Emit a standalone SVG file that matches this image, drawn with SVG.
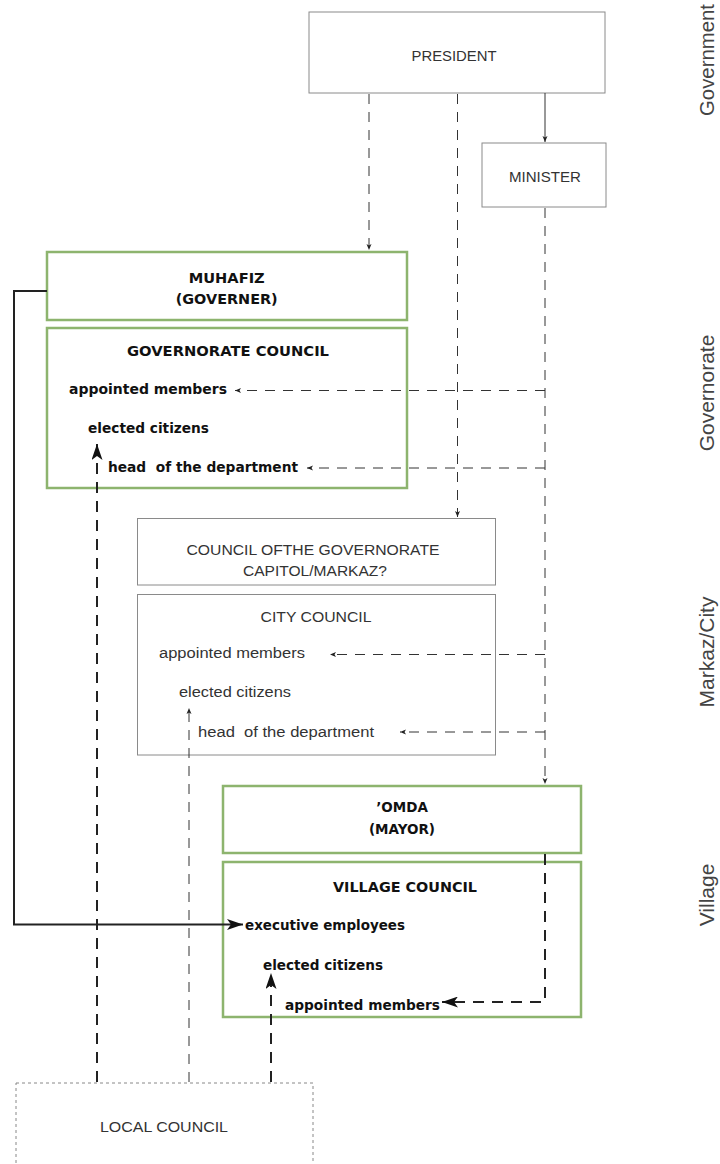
<svg xmlns="http://www.w3.org/2000/svg" width="720" height="1164" viewBox="0 0 720 1164">
<style>
.box{fill:#fff;stroke:#8a8a8a;stroke-width:1}
.gbox{fill:#fff;stroke:#8db46e;stroke-width:2.5}
.dot{fill:#fff;stroke:#888;stroke-width:1;stroke-dasharray:3,3}
.b{font-family:"DejaVu Sans",sans-serif;font-weight:bold;font-size:13.5px;fill:#111}
.n{font-family:"Liberation Sans",Arial,sans-serif;font-size:15.5px;fill:#333}
.s{font-family:"Liberation Sans",Arial,sans-serif;font-size:21px;fill:#444}
.c{text-anchor:middle}
.thin{fill:none;stroke:#333;stroke-width:1;stroke-dasharray:10,8}
.thick{fill:none;stroke:#222;stroke-width:2;stroke-dasharray:11,8}
.solid{fill:none;stroke:#333;stroke-width:1}
.solidk{fill:none;stroke:#222;stroke-width:2}
</style>
<defs>
<marker id="sm" viewBox="0 0 6 6" refX="6" refY="3" markerWidth="6" markerHeight="6" markerUnits="userSpaceOnUse" orient="auto"><path d="M0,0.5 L6,3 L0,5.5 L1.5,3 z" fill="#222"/></marker>
<marker id="bg" viewBox="0 0 16 11" refX="16" refY="5.5" markerWidth="16" markerHeight="11" markerUnits="userSpaceOnUse" orient="auto"><path d="M0,0 L16,5.5 L0,11 L4,5.5 z" fill="#111"/></marker>
</defs>

<g id="president"><rect class="box" x="309" y="12" width="296" height="81"/><text class="n c" x="454" y="61" textLength="85" lengthAdjust="spacingAndGlyphs">PRESIDENT</text></g>
<g id="minister"><rect class="box" x="482" y="143" width="124" height="64"/><text class="n c" x="545" y="181.5" textLength="72" lengthAdjust="spacingAndGlyphs">MINISTER</text></g>

<g id="muhafiz"><rect class="gbox" x="47" y="252" width="360" height="68"/>
<text class="b c" x="226.7" y="283" textLength="76" lengthAdjust="spacingAndGlyphs">MUHAFIZ</text>
<text class="b c" x="226.7" y="304" textLength="102" lengthAdjust="spacingAndGlyphs">(GOVERNER)</text></g>

<g id="governorate-council"><rect class="gbox" x="47" y="328" width="360" height="160"/>
<text class="b c" x="228" y="356" textLength="202" lengthAdjust="spacingAndGlyphs">GOVERNORATE COUNCIL</text>
<text class="b" x="69" y="394" textLength="158" lengthAdjust="spacingAndGlyphs">appointed members</text>
<text class="b" x="88" y="433" textLength="121" lengthAdjust="spacingAndGlyphs">elected citizens</text>
<text class="b" x="108" y="472" xml:space="preserve" textLength="190" lengthAdjust="spacingAndGlyphs">head  of the department</text></g>

<g id="capitol-council"><rect class="box" x="137.5" y="518.5" width="358" height="66.5"/>
<text class="n c" x="313" y="555" textLength="253" lengthAdjust="spacingAndGlyphs">COUNCIL OFTHE GOVERNORATE</text>
<text class="n c" x="315" y="576" textLength="144" lengthAdjust="spacingAndGlyphs">CAPITOL/MARKAZ?</text></g>

<g id="city-council"><rect class="box" x="137.5" y="594.5" width="358" height="160.5"/>
<text class="n c" x="316" y="621.5" textLength="111" lengthAdjust="spacingAndGlyphs">CITY COUNCIL</text>
<text class="n" x="159" y="658" textLength="146" lengthAdjust="spacingAndGlyphs">appointed members</text>
<text class="n" x="179" y="697" textLength="112" lengthAdjust="spacingAndGlyphs">elected citizens</text>
<text class="n" x="198" y="737" xml:space="preserve" textLength="176" lengthAdjust="spacingAndGlyphs">head  of the department</text></g>

<g id="omda"><rect class="gbox" x="223" y="786" width="358" height="67"/>
<text class="b c" x="402" y="812">’OMDA</text>
<text class="b c" x="402" y="834">(MAYOR)</text></g>

<g id="village-council"><rect class="gbox" x="223" y="862" width="358" height="155"/>
<text class="b c" x="405" y="891.5" textLength="144" lengthAdjust="spacingAndGlyphs">VILLAGE COUNCIL</text>
<text class="b" x="245" y="930" textLength="160" lengthAdjust="spacingAndGlyphs">executive employees</text>
<text class="b" x="263" y="970" textLength="120" lengthAdjust="spacingAndGlyphs">elected citizens</text>
<text class="b" x="285" y="1010" textLength="155" lengthAdjust="spacingAndGlyphs">appointed members</text></g>

<g id="local-council"><rect class="dot" x="16" y="1083" width="297" height="100"/>
<text class="n c" x="164" y="1132" textLength="128" lengthAdjust="spacingAndGlyphs">LOCAL COUNCIL</text></g>

<g id="levels">
<text class="s c" transform="translate(714,60) rotate(-90)" textLength="112" lengthAdjust="spacingAndGlyphs">Government</text>
<text class="s c" transform="translate(714,393) rotate(-90)">Governorate</text>
<text class="s c" transform="translate(714,652) rotate(-90)">Markaz/City</text>
<text class="s c" transform="translate(714,895) rotate(-90)">Village</text>
</g>

<g id="connectors">
<line class="solid" x1="545" y1="93" x2="545" y2="142" marker-end="url(#sm)"/>
<line class="thin" x1="369" y1="94" x2="369" y2="250" marker-end="url(#sm)"/>
<line class="thin" x1="457.5" y1="94" x2="457.5" y2="517" marker-end="url(#sm)"/>
<line class="thin" x1="545" y1="208" x2="545" y2="784" marker-end="url(#sm)"/>
<line class="thin" x1="545" y1="390.5" x2="235" y2="390.5" marker-end="url(#sm)"/>
<line class="thin" x1="545" y1="468" x2="307" y2="468" marker-end="url(#sm)"/>
<line class="thin" x1="545" y1="654.5" x2="330" y2="654.5" marker-end="url(#sm)"/>
<line class="thin" x1="545" y1="732" x2="400" y2="732" marker-end="url(#sm)"/>
<path class="thick" d="M545,854 V1002 H442" marker-end="url(#bg)"/>
<path class="solidk" d="M47,291 H14 V924.5 H243" marker-end="url(#bg)"/>
<line class="thick" x1="97" y1="1082" x2="97" y2="444" marker-end="url(#bg)"/>
<line class="thin" x1="189" y1="1082" x2="189" y2="708" marker-end="url(#sm)"/>
<line class="thick" x1="271" y1="1082" x2="271" y2="973" marker-end="url(#bg)"/>
</g>
</svg>
